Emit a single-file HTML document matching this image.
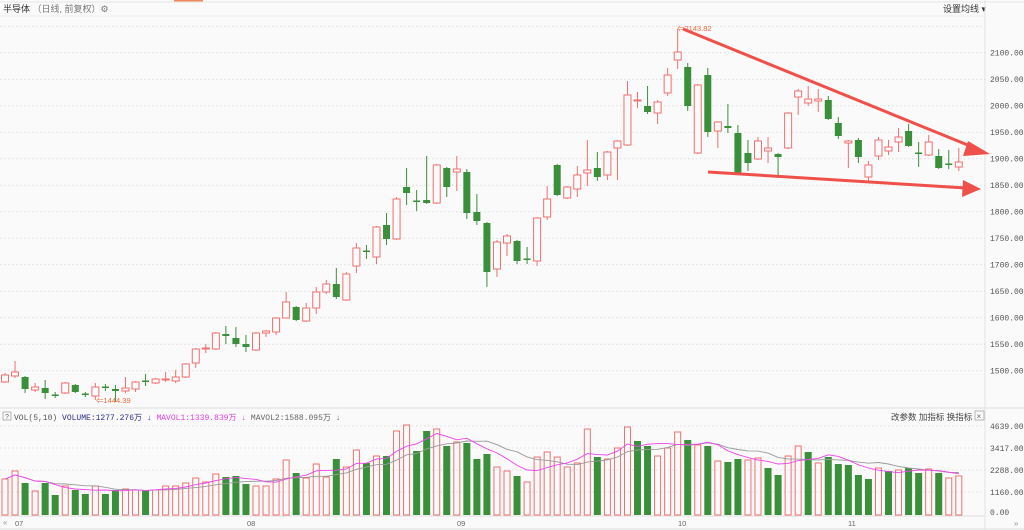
<!DOCTYPE html>
<html><head><meta charset="utf-8"><style>
html,body{margin:0;padding:0;background:#fafafa;}
body{width:1024px;height:530px;overflow:hidden;font-family:"Liberation Sans","Noto Sans CJK SC",sans-serif;}
</style></head><body>
<svg id="s" width="1024" height="530" xmlns="http://www.w3.org/2000/svg" style="display:block">
<rect x="0" y="0" width="1024" height="530" fill="#fafafa"/>
<rect x="174" y="0" width="29" height="2" fill="#f08a5d"/>
<line x1="0" y1="2" x2="1024" y2="2" stroke="#e6e6e6"/>
<text x="3" y="12" font-size="9" fill="#333">半导体 <tspan fill="#777">（日线, 前复权）⚙</tspan></text>
<text x="943" y="12" font-size="9" fill="#333">设置均线 ▾</text>
<line x1="0" y1="16" x2="985" y2="16" stroke="#eee"/>
<g id="grid"></g>
<line x1="985" y1="0" x2="985" y2="530" stroke="#e2e2e2"/>
<line x1="0" y1="408" x2="1024" y2="408" stroke="#ddd"/>
<g id="cand"></g>
<g id="vol"></g>
<text x="677" y="31" font-size="7.5" fill="#f06a3a">⇐2143.82</text>
<text x="96" y="403" font-size="7.5" fill="#f06a3a">⇐1444.39</text>
<line x1="683" y1="29" x2="975" y2="148" stroke="#f0504a" stroke-width="3"/>
<polygon points="990,154 968,141 963,156" fill="#f0504a"/>
<line x1="708" y1="172" x2="966" y2="188" stroke="#f0504a" stroke-width="3"/>
<polygon points="981,189 963,180 962,197" fill="#f0504a"/>
<rect x="3" y="412" width="8" height="8" fill="none" stroke="#999" stroke-width="0.7"/>
<text x="5" y="419" font-size="7" fill="#666">?</text>
<text x="14" y="420" font-size="8" font-family="Liberation Mono,monospace" fill="#555">VOL(5,10) <tspan fill="#2b2b8a">VOLUME:1277.276万 ↓</tspan> <tspan fill="#e040e0">MAVOL1:1339.839万 ↓</tspan> <tspan fill="#666">MAVOL2:1588.095万 ↓</tspan></text>
<text x="891" y="420" font-size="8.5" fill="#444">改参数 加指标 换指标</text>
<rect x="975" y="411" width="9" height="9" fill="none" stroke="#999" stroke-width="0.7"/>
<text x="976.5" y="419" font-size="8" fill="#666">×</text>
<line x1="0" y1="516" x2="985" y2="516" stroke="#ddd"/>
<text x="3" y="525" font-size="8" fill="#999">«</text>
<text x="15" y="526" font-size="7.5" fill="#666">07</text>
<text x="247" y="526" font-size="7.5" fill="#666">08</text>
<text x="457" y="526" font-size="7.5" fill="#666">09</text>
<text x="678" y="526" font-size="7.5" fill="#666">10</text>
<text x="848" y="526" font-size="7.5" fill="#666">11</text>
<text x="1014" y="526" font-size="8" fill="#999">»</text>
<line x1="0" y1="529" x2="1024" y2="529" stroke="#ddd"/>
<g id="lab" font-size="8" font-family="Liberation Mono,monospace" fill="#555"></g>
</svg>
<script>
var NS="http://www.w3.org/2000/svg";
function el(p,t,a){var e=document.createElementNS(NS,t);for(var k in a)e.setAttribute(k,a[k]);document.getElementById(p).appendChild(e);return e;}
for(var p=1500;p<=2150;p+=50){var y=52.7+(2100-p)*0.53;
 el("grid","line",{x1:0,x2:985,y1:y,y2:y,stroke:"#ddd","stroke-dasharray":"1.5,2.5"});
 if(p<=2100){var t=el("lab","text",{x:990,y:y+3});t.textContent=p.toFixed(2);}}
[[426,"4639.00"],[448,"3417.00"],[470,"2288.00"],[492,"1160.00"],[512,"0.00"]].forEach(function(g){
 if(g[0]<510)el("grid","line",{x1:0,x2:985,y1:g[0],y2:g[0],stroke:"#ddd","stroke-dasharray":"1.5,2.5"});
 var t=el("lab","text",{x:990,y:g[0]+3});t.textContent=(g[1].length==4?"   ":"")+g[1];});
var C=[["r",373,375,382,383],["r",361,372,376,378],["g",376,377,389,393],["r",383,387,390,392],["g",380,388,393,399],["g",392,395,395,398],["r",382,383,393,394],["g",384,385,392,393],["g",392,394,394,397],["r",383,387,396,400],
["g",384,387,387,391],["g",385,389,391,402],["r",377,388,391,393],["r",381,382,389,392],["g",374,381,381,386],["r",378,379,383,384],["r",372,379,380,382],["r",370,377,381,383],["r",363,364,377,378],["r",348,349,363,368],
["r",344,348,348,353],["r",332,333,349,350],["g",326,334,336,344],["g",327,338,344,347],["g",335,344,347,352],["r",332,333,350,351],["r",330,331,333,337],["r",317,318,332,335],["r",292,302,318,318],["g",306,307,320,321],
["r",303,308,321,322],["r",287,292,308,314],["r",280,284,292,294],["g",268,284,297,299],["r",272,274,300,301],["r",243,248,266,273],["g",245,251,251,259],["r",226,227,257,264],["g",213,225,239,245],["r",197,199,239,240],
["g",168,187,193,205],["g",190,201,201,211],["g",156,200,203,204],["r",164,165,203,204],["g",167,168,187,197],["r",156,169,172,191],["g",169,172,213,219],["g",194,212,221,225],["g",222,223,272,287],["r",240,242,269,277],
["r",234,236,243,256],["g",240,241,261,264],["g",247,259,259,264],["r",217,218,261,266],["r",186,199,217,220],["g",164,165,195,196],["r",186,187,198,199],["r",166,175,189,197],["r",140,170,173,186],["g",152,168,177,181],
["r",151,152,175,180],["r",140,141,148,180],["r",81,95,145,146],["r",92,100,100,108],["g",86,106,112,114],["r",100,102,113,124],["r",68,75,93,96],["r",29,52,60,69],["g",63,67,106,111],["r",84,85,153,154],
["g",68,75,132,137],["r",121,122,131,148],["g",104,126,128,133],["g",125,133,173,174],["g",140,153,163,171],["r",137,141,159,160],["r",137,148,151,163],["g",153,154,157,176],["r",112,113,148,149],["r",89,91,97,115],
["r",86,99,103,106],["r",89,99,101,112],["g",96,100,119,120],["g",117,123,136,139],["r",140,141,143,168],["g",138,140,157,163],["r",161,165,177,181],["r",137,140,156,160],["r",140,147,151,155],["r",128,137,142,152],
["g",124,131,146,147],["g",142,153,153,167],["r",135,142,155,156],["g",149,156,168,169],["g",150,164,164,169],["r",148,162,167,171]];
var R="#f07070",G="#3a8f3a";
C.forEach(function(c,i){var x=5+i*10.04;var col=c[0]=="r"?R:G;
 el("cand","line",{x1:x,x2:x,y1:c[1],y2:c[4],stroke:col,"stroke-width":1});
 var h=Math.max(c[3]-c[2],1);
 if(c[0]=="r")el("cand","rect",{x:x-3.5,y:c[2],width:7,height:h,fill:"#fafafa",stroke:col,"stroke-width":1});
 else el("cand","rect",{x:x-3.5,y:c[2]-(h<2?0.5:0),width:7,height:Math.max(h,1.5),fill:col});});
var V=[479,471,483,491,483,495,486,490,494,486,494,490,489,490,490,490,486,486,483,478,482,474,477,476,484,486,486,479,460,473,478,464,477,459,467,450,463,456,456,431,425,451,431,429,446,442,443,459,
454,467,471,476,482,457,452,457,467,463,429,457,459,448,427,441,446,456,448,432,440,445,446,461,462,459,460,458,468,475,456,446,452,463,457,464,465,475,479,468,471,470,468,473,469,473,478,476];
var VC=("rrgrggrggrggrrgrrrrrrrgggrrrrgrrrgrrgrgrrggrgrgg"+"grrgrrrrrrrgrrrggrrrgrgrggrrggrrgrgggggrgrggrgrr").split("");
var B=515;
V.forEach(function(t,i){var x=5+i*10.04;var g=VC[i]=="g";
 if(g)el("vol","rect",{x:x-3.5,y:t,width:7,height:B-t,fill:G});
 else el("vol","rect",{x:x-3,y:t,width:6,height:B-t,fill:"none",stroke:R,"stroke-width":1});});
function ma(n,col){var pts=[];for(var i=0;i<V.length;i++){var s=0,k=0;for(var j=Math.max(0,i-n+1);j<=i;j++){s+=B-V[j];k++;}pts.push((5+i*10.04).toFixed(1)+","+(B-s/k).toFixed(1));}
 el("vol","polyline",{points:pts.join(" "),fill:"none",stroke:col,"stroke-width":0.9});}
ma(10,"#999");ma(5,"#ee44ee");
</script>
</body></html>
